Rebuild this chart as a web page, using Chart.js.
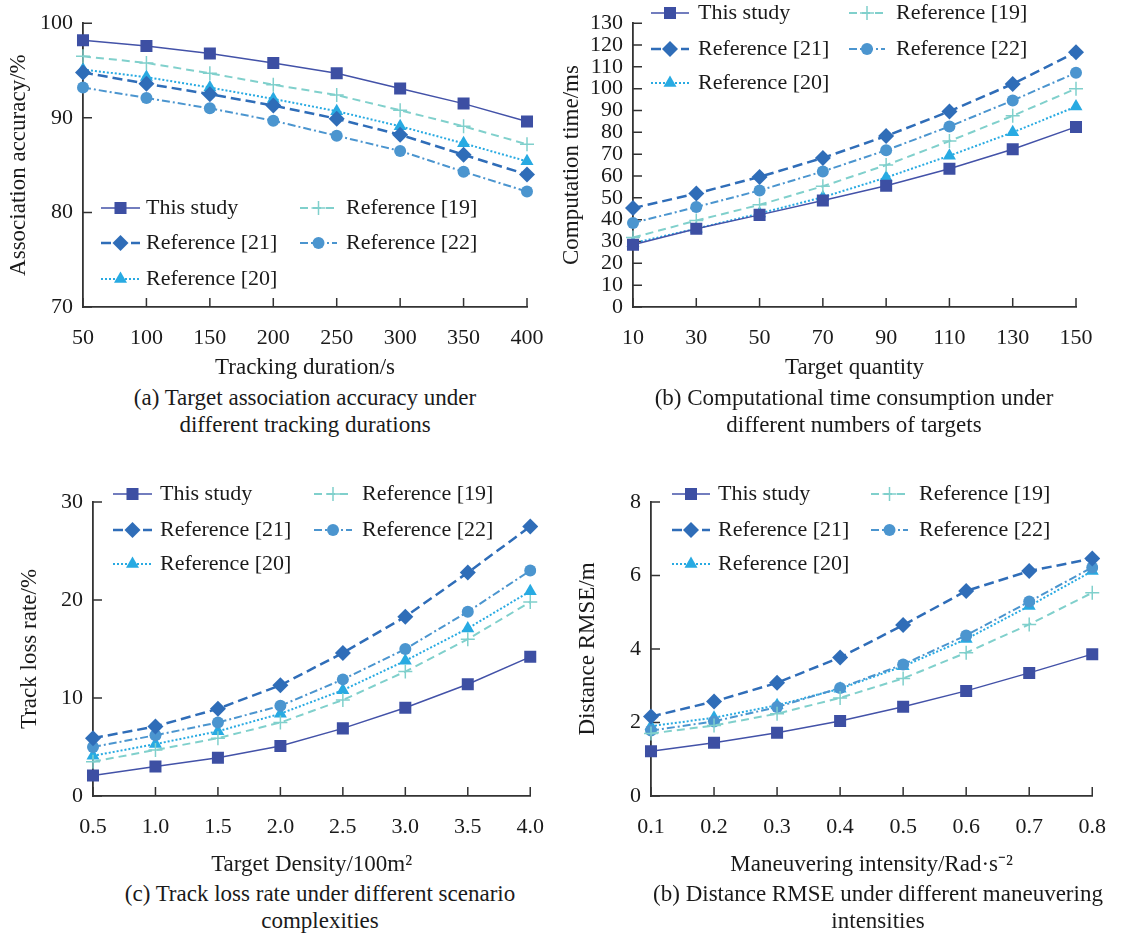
<!DOCTYPE html>
<html>
<head>
<meta charset="utf-8">
<script src="https://cdn.jsdelivr.net/npm/chart.js@4.4.1/dist/chart.umd.min.js"></script>
<style>
  body { margin: 0; background: #fff; width: 1124px; height: 933px; position: relative; overflow: hidden;
         font-family: "Liberation Serif", "Times New Roman", serif; color: #1a1a1a; }
  canvas { position: absolute; }
  .cap { position: absolute; width: 600px; text-align: center; font-size: 23px; line-height: 27px; white-space: nowrap; }
</style>
</head>
<body>
<canvas id="chartA" width="562" height="379" style="left:0;top:0"></canvas>
<canvas id="chartB" width="564" height="379" style="left:560px;top:0"></canvas>
<canvas id="chartC" width="562" height="406" style="left:0;top:470px"></canvas>
<canvas id="chartD" width="564" height="406" style="left:560px;top:470px"></canvas>

<div class="cap" style="left:5px;top:384px">(a) Target association accuracy under<br>different tracking durations</div>
<div class="cap" style="left:554px;top:384px">(b) Computational time consumption under<br>different numbers of targets</div>
<div class="cap" style="left:20px;top:880px">(c) Track loss rate under different scenario<br>complexities</div>
<div class="cap" style="left:578px;top:880px">(b) Distance RMSE under different maneuvering<br>intensities</div>

<script>
// ---- data -------------------------------------------------------------------

const seriesNames = ['This study', 'Reference [19]', 'Reference [21]', 'Reference [22]', 'Reference [20]'];

// (a) association accuracy (%) vs tracking duration (s)
const durations = ['50', '100', '150', '200', '250', '300', '350', '400'];
const accThis  = [98.2, 97.6, 96.8, 95.8, 94.7, 93.1, 91.5, 89.6];
const acc19    = [96.5, 95.8, 94.7, 93.5, 92.4, 90.8, 89.1, 87.2];
const acc21    = [94.8, 93.6, 92.5, 91.3, 89.9, 88.2, 86.1, 84.0];
const acc22    = [93.2, 92.1, 91.0, 89.7, 88.1, 86.5, 84.3, 82.2];
const acc20    = [95.1, 94.3, 93.2, 92.0, 90.7, 89.1, 87.3, 85.4];

// (b) computation time (ms) vs target quantity
const quantities = ['10', '30', '50', '70', '90', '110', '130', '150'];
const timeThis = [28.5, 35.8, 42.2, 48.8, 55.5, 63.3, 72.3, 82.5];
const time19   = [31.8, 39.6, 46.8, 55.3, 65.0, 76.0, 87.6, 100.0];
const time21   = [45.3, 52.0, 59.6, 68.3, 78.3, 89.6, 102.2, 116.7];
const time22   = [38.5, 45.8, 53.4, 62.1, 71.8, 82.7, 94.6, 107.3];
const time20   = [29.2, 35.9, 42.8, 50.3, 59.3, 69.3, 80.0, 91.8];

// (c) track loss rate (%) vs target density
const densities = ['0.5', '1.0', '1.5', '2.0', '2.5', '3.0', '3.5', '4.0'];
const lossThis = [2.1, 3.0, 3.9, 5.1, 6.9, 9.0, 11.4, 14.2];
const loss19   = [3.5, 4.7, 5.9, 7.5, 9.8, 12.7, 16.0, 19.8];
const loss21   = [5.9, 7.1, 8.9, 11.3, 14.6, 18.3, 22.8, 27.5];
const loss22   = [5.0, 6.2, 7.5, 9.2, 11.9, 15.0, 18.8, 23.0];
const loss20   = [4.1, 5.3, 6.6, 8.4, 10.8, 13.8, 17.1, 20.9];

// (d) distance RMSE (m) vs maneuvering intensity
const intensities = ['0.1', '0.2', '0.3', '0.4', '0.5', '0.6', '0.7', '0.8'];
const rmseThis = [1.22, 1.45, 1.72, 2.04, 2.43, 2.86, 3.35, 3.86];
const rmse19   = [1.70, 1.92, 2.24, 2.67, 3.20, 3.90, 4.67, 5.53];
const rmse21   = [2.16, 2.57, 3.08, 3.77, 4.65, 5.58, 6.12, 6.46];
const rmse22   = [1.78, 2.03, 2.42, 2.94, 3.58, 4.37, 5.29, 6.22];
const rmse20   = [1.90, 2.13, 2.47, 2.92, 3.53, 4.27, 5.17, 6.12];

// ---- styles -----------------------------------------------------------------

const FONT = '"Liberation Serif", "Times New Roman", serif';
const TEXT = '#1a1a1a';
const AXIS = '#333';

const STYLES = [
  { borderColor: '#4352a8', borderWidth: 1.5, borderDash: [],          pointStyle: 'rect',    pointRadius: 8.5, pointBackgroundColor: '#3d4fa3', pointBorderWidth: 0 },
  { borderColor: '#80d0cc', borderWidth: 2,   borderDash: [8, 5],      pointStyle: 'cross',   pointRadius: 7,   pointBackgroundColor: '#80d0cc', pointBorderColor: '#80d0cc', pointBorderWidth: 1.5 },
  { borderColor: '#2f6db8', borderWidth: 2.5, borderDash: [10, 5],     pointStyle: 'rectRot', pointRadius: 8,   pointBackgroundColor: '#2f6db8', pointBorderWidth: 0 },
  { borderColor: '#4b95cf', borderWidth: 2,   borderDash: [8, 3, 2, 3], pointStyle: 'circle', pointRadius: 6,   pointBackgroundColor: '#4b95cf', pointBorderWidth: 0 },
  { borderColor: '#28aae2', borderWidth: 2,   borderDash: [2, 2],      pointStyle: 'triangle', pointRadius: 7.5, pointBackgroundColor: '#28aae2', pointBorderWidth: 0 },
];

// ---- plugins ----------------------------------------------------------------

// tick marks pointing into the plot, as in the original figure
const inTicks = {
  id: 'inTicks',
  beforeDatasetsDraw(chart) {
    const { ctx, chartArea: a, scales: { x, y } } = chart;
    ctx.save();
    ctx.strokeStyle = AXIS;
    ctx.lineWidth = 1.5;
    ctx.beginPath();
    x.ticks.forEach((t, i) => { const px = x.getPixelForTick(i); ctx.moveTo(px, a.bottom); ctx.lineTo(px, a.bottom - 9); });
    y.ticks.forEach((t, i) => { const py = y.getPixelForTick(i); ctx.moveTo(a.left, py); ctx.lineTo(a.left + 9, py); });
    ctx.stroke();
    ctx.restore();
  },
};

// two-column legend: c1/c2 = [lineStart, lineEnd, textX], rows = y centres
const panelLegend = {
  id: 'panelLegend',
  afterDraw(chart, args, opts) {
    const ctx = chart.ctx;
    ctx.save();
    chart.data.datasets.forEach((ds, i) => {
      const col = i % 2 ? opts.c2 : opts.c1;
      const y = opts.rows[Math.floor(i / 2)];
      ctx.strokeStyle = ds.borderColor;
      ctx.lineWidth = ds.borderWidth;
      ctx.setLineDash(ds.borderDash);
      ctx.beginPath();
      ctx.moveTo(col[0], y);
      ctx.lineTo(col[1], y);
      ctx.stroke();
      ctx.setLineDash([]);
      ctx.fillStyle = ds.pointBackgroundColor;
      ctx.strokeStyle = ds.pointBorderColor || ds.borderColor;
      ctx.lineWidth = ds.pointBorderWidth;
      Chart.helpers.drawPoint(ctx, { pointStyle: ds.pointStyle, radius: ds.pointRadius, rotation: 0, borderWidth: ds.pointBorderWidth },
        (col[0] + col[1]) / 2, y);
      ctx.fillStyle = TEXT;
      ctx.font = '22px ' + FONT;
      ctx.textAlign = 'left';
      ctx.textBaseline = 'middle';
      ctx.fillText(ds.label, col[2], y);
    });
    ctx.restore();
  },
};

// ---- chart factory ----------------------------------------------------------

function makeChart(id, labels, values, cfg) {
  const canvas = document.getElementById(id);
  const W = canvas.width, H = canvas.height;
  return new Chart(canvas.getContext('2d'), {
    type: 'line',
    data: {
      labels,
      datasets: values.map((v, i) => ({ label: seriesNames[i], data: v, fill: false, tension: 0, ...STYLES[i] })),
    },
    options: {
      responsive: false,
      animation: false,
      layout: { padding: { top: cfg.top, right: W - cfg.right, left: 0, bottom: 0 } },
      plugins: {
        legend: { display: false },
        tooltip: { enabled: false },
        panelLegend: cfg.legend,
      },
      scales: {
        x: {
          type: 'category',
          offset: false,
          grid: { display: false, drawTicks: false },
          border: { color: AXIS, width: 1.8 },
          ticks: { autoSkip: false, maxRotation: 0, padding: 18, color: TEXT, font: { family: FONT, size: 22 } },
          title: { display: true, text: cfg.xTitle, color: TEXT, padding: 0, font: { family: FONT, size: 23, lineHeight: 1 } },
          afterFit(s) { s.height = H - cfg.bottom; },
        },
        y: {
          min: cfg.yMin,
          max: cfg.yMax,
          grid: { display: false, drawTicks: false },
          border: { color: AXIS, width: 1.8 },
          ticks: { stepSize: cfg.step, autoSkip: false, padding: 10, color: TEXT, font: { family: FONT, size: 22 } },
          title: { display: true, text: cfg.yTitle, color: TEXT, padding: { top: cfg.yTitlePad, bottom: 0 },
                   font: { family: FONT, size: 23, lineHeight: 1 } },
          afterFit(s) { s.width = cfg.left; },
        },
      },
    },
    plugins: [inTicks, panelLegend],
  });
}

makeChart('chartA', durations, [accThis, acc19, acc21, acc22, acc20], {
  left: 83, top: 18, right: 527, bottom: 307, yMin: 70, yMax: 100, step: 10,
  xTitle: 'Tracking duration/s', yTitle: 'Association accuracy/%', yTitlePad: 7,
  legend: { rows: [208, 243, 279], c1: [101, 140, 146], c2: [300, 337, 346] },
});

makeChart('chartB', quantities, [timeThis, time19, time21, time22, time20], {
  left: 73, top: 18, right: 516, bottom: 307, yMin: 0, yMax: 130, step: 10,
  xTitle: 'Target quantity', yTitle: 'Computation time/ms', yTitlePad: 0,
  legend: { rows: [13, 49, 83], c1: [91, 129, 138], c2: [289, 325, 336] },
});

makeChart('chartC', densities, [lossThis, loss19, loss21, loss22, loss20], {
  left: 93, top: 32, right: 547, bottom: 326, yMin: 0, yMax: 30, step: 10,
  xTitle: 'Target Density/100m²', yTitle: 'Track loss rate/%', yTitlePad: 18,
  legend: { rows: [24, 60, 94], c1: [113, 152, 160], c2: [314, 352, 362] },
});

makeChart('chartD', intensities, [rmseThis, rmse19, rmse21, rmse22, rmse20], {
  left: 91, top: 32, right: 545, bottom: 326, yMin: 0, yMax: 8, step: 2,
  xTitle: 'Maneuvering intensity/Rad·s⁻²', yTitle: 'Distance RMSE/m', yTitlePad: 16,
  legend: { rows: [24, 60, 94], c1: [112, 150, 158], c2: [311, 348, 359] },
});
</script>
</body>
</html>
